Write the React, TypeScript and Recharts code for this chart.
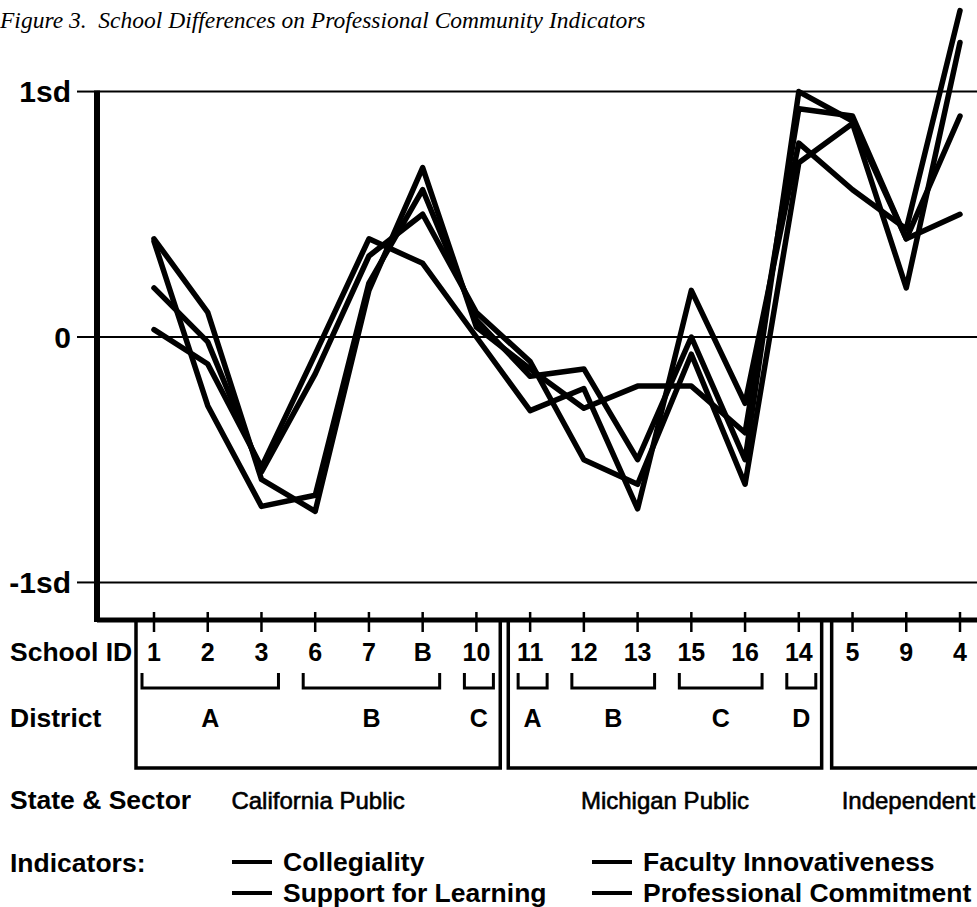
import { Line, LineChart, ReferenceLine, XAxis, YAxis } from 'recharts';

// school order along the x axis, as printed
const schoolIds = ['1', '2', '3', '6', '7', 'B', '10', '11', '12', '13', '15', '16', '14', '5', '9', '4'];

// standardised scores (sd units)
const collegiality = [0.40, 0.10, -0.58, -0.71, 0.19, 0.69, 0.04, -0.13, -0.29, -0.20, -0.20, -0.39, 0.93, 0.90, 0.40, 0.50];
const supportForLearning = [0.39, -0.28, -0.69, -0.645, 0.22, 0.60, 0.07, -0.16, -0.13, -0.50, 0.00, -0.50, 1.00, 0.88, 0.40, 0.90];
const facultyInnovativeness = [0.20, -0.02, -0.55, -0.15, 0.33, 0.50, 0.10, -0.10, -0.50, -0.60, -0.07, -0.60, 0.71, 0.87, 0.20, 1.20];
const professionalCommitment = [0.03, -0.11, -0.53, -0.07, 0.40, 0.30, 0.00, -0.30, -0.21, -0.70, 0.19, -0.27, 0.79, 0.60, 0.44, 1.33];

const sdTicks = [-1, 0, 1];
const sdLabels: Record<number, string> = { [-1]: '-1sd', 0: '0', 1: '1sd' };

const districts = [
  { label: 'A', first: 0, last: 2 },
  { label: 'B', first: 3, last: 5 },
  { label: 'C', first: 6, last: 6 },
  { label: 'A', first: 7, last: 7 },
  { label: 'B', first: 8, last: 9 },
  { label: 'C', first: 10, last: 11 },
  { label: 'D', first: 12, last: 12 },
];

const sectors = ['California Public', 'Michigan Public', 'Independent'];

const indicatorLegend = [
  { label: 'Collegiality', col: 0, row: 0 },
  { label: 'Support for Learning', col: 0, row: 1 },
  { label: 'Faculty Innovativeness', col: 1, row: 0 },
  { label: 'Professional Commitment', col: 1, row: 1 },
];

const rows = schoolIds.map((id, i) => ({
  id,
  collegiality: collegiality[i],
  support: supportForLearning[i],
  innovation: facultyInnovativeness[i],
  commitment: professionalCommitment[i],
}));

const W = 977;
const H = 907;
const PLOT_LEFT = 97;
const PLOT_BOTTOM = 620;
const PAD_LEFT = 57;
const PAD_RIGHT = 17;
const Y_DOMAIN: [number, number] = [-1.153, 1.373];
const SANS = '"Liberation Sans", Arial, sans-serif';
const SERIF = '"Liberation Serif", "Times New Roman", serif';

const step = (W - PLOT_LEFT - PAD_LEFT - PAD_RIGHT) / (schoolIds.length - 1);
const xOf = (i: number) => PLOT_LEFT + PAD_LEFT + i * step;
const yOf = (v: number) => ((Y_DOMAIN[1] - v) / (Y_DOMAIN[1] - Y_DOMAIN[0])) * PLOT_BOTTOM;
const between = (i: number) => (xOf(i) + xOf(i + 1)) / 2;

const BOX_BOTTOM = 768;
const boxes = [
  { left: xOf(0) - 18, right: between(6) - 3 },
  { left: between(6) + 5, right: between(12) - 4 },
  { left: between(12) + 6, right: W + 20 },
];

function SchoolTick({ x, y, payload }: any) {
  return (
    <g>
      <line x1={x} x2={x} y1={y - 8} y2={y + 12} stroke="#000" strokeWidth={2.5} />
      <text x={x} y={y + 32} textAnchor="middle" dominantBaseline="central"
        fontFamily={SANS} fontWeight={700} fontSize={25} fill="#000">
        {payload.value}
      </text>
    </g>
  );
}

const seriesKeys = ['collegiality', 'support', 'innovation', 'commitment'];

export default function App() {
  const headerStyle = { fontFamily: SANS, fontWeight: 700, fontSize: 26.5, fill: '#000' } as const;
  return (
    <div style={{ position: 'absolute', left: 0, top: 0, width: W, height: H, background: '#fff' }}>
      <LineChart width={W} height={H} data={rows} margin={{ top: 0, right: 0, bottom: 0, left: 0 }}>
        <XAxis
          dataKey="id"
          interval={0}
          height={H - PLOT_BOTTOM}
          padding={{ left: PAD_LEFT, right: PAD_RIGHT }}
          axisLine={{ stroke: '#000', strokeWidth: 5 }}
          tickLine={false}
          tickSize={0}
          tickMargin={0}
          tick={(props: any) => <SchoolTick {...props} />}
        />
        <YAxis
          type="number"
          domain={Y_DOMAIN}
          allowDataOverflow
          ticks={sdTicks}
          interval={0}
          width={PLOT_LEFT}
          axisLine={false}
          tickSize={20}
          tickMargin={6}
          tickLine={{ stroke: '#000', strokeWidth: 2 }}
          tick={{ fill: '#000', fontFamily: SANS, fontWeight: 700, fontSize: 30 }}
          tickFormatter={(v: number) => sdLabels[v]}
        />
        {sdTicks.map((t) => (
          <ReferenceLine key={t} y={t} stroke="#000" strokeWidth={2} />
        ))}
        {seriesKeys.map((k) => (
          <Line
            key={k}
            type="linear"
            dataKey={k}
            stroke="#000"
            strokeWidth={5.5}
            strokeLinejoin="round"
            strokeLinecap="round"
            dot={false}
            isAnimationActive={false}
          />
        ))}
      </LineChart>

      <svg width={W} height={H} style={{ position: 'absolute', left: 0, top: 0, pointerEvents: 'none' }}>
        <text x={0} y={28} fontFamily={SERIF} fontStyle="italic" fontSize={23.5} fill="#000" style={{ whiteSpace: 'pre' }}>
          {'Figure 3.  School Differences on Professional Community Indicators'}
        </text>

        {/* left axis only runs from +1sd down to the x axis */}
        <line x1={PLOT_LEFT} x2={PLOT_LEFT} y1={yOf(1) - 1} y2={PLOT_BOTTOM + 2} stroke="#000" strokeWidth={6} />

        {/* state & sector boxes */}
        {boxes.map((b, i) => (
          <polyline
            key={i}
            points={`${b.left},${PLOT_BOTTOM} ${b.left},${BOX_BOTTOM} ${b.right},${BOX_BOTTOM} ${b.right},${PLOT_BOTTOM}`}
            fill="none"
            stroke="#000"
            strokeWidth={3.5}
          />
        ))}

        {/* district brackets */}
        {districts.map((d, i) => {
          const l = xOf(d.first) - 12;
          const r = xOf(d.last) + 17;
          return (
            <g key={i}>
              <polyline points={`${l},673 ${l},688 ${r},688 ${r},673`} fill="none" stroke="#000" strokeWidth={3} />
              <text x={(l + r) / 2} y={718} textAnchor="middle" dominantBaseline="central"
                fontFamily={SANS} fontWeight={700} fontSize={25} fill="#000">{d.label}</text>
            </g>
          );
        })}

        {/* sector names */}
        {sectors.map((s, i) => {
          const b = boxes[i];
          const last = i === sectors.length - 1;
          return (
            <text key={s} x={last ? b.left + 10 : (b.left + b.right) / 2} y={800}
              textAnchor={last ? 'start' : 'middle'} dominantBaseline="central"
              fontFamily={SANS} fontSize={24} fill="#000" stroke="#000" strokeWidth={0.6}>{s}</text>
          );
        })}

        {/* row headers */}
        <text x={10} y={652} dominantBaseline="central" {...headerStyle}>School ID</text>
        <text x={10} y={718} dominantBaseline="central" {...headerStyle}>District</text>
        <text x={10} y={800} dominantBaseline="central" {...headerStyle}>State &amp; Sector</text>
        <text x={10} y={863} dominantBaseline="central" {...headerStyle}>Indicators:</text>

        {/* legend */}
        {indicatorLegend.map((item) => {
          const x0 = item.col === 0 ? 232 : 592;
          const y = item.row === 0 ? 862 : 893;
          return (
            <g key={item.label}>
              <line x1={x0} x2={x0 + 40} y1={y} y2={y} stroke="#000" strokeWidth={4} />
              <text x={x0 + 51} y={y} dominantBaseline="central" {...headerStyle}>{item.label}</text>
            </g>
          );
        })}
      </svg>
    </div>
  );
}
